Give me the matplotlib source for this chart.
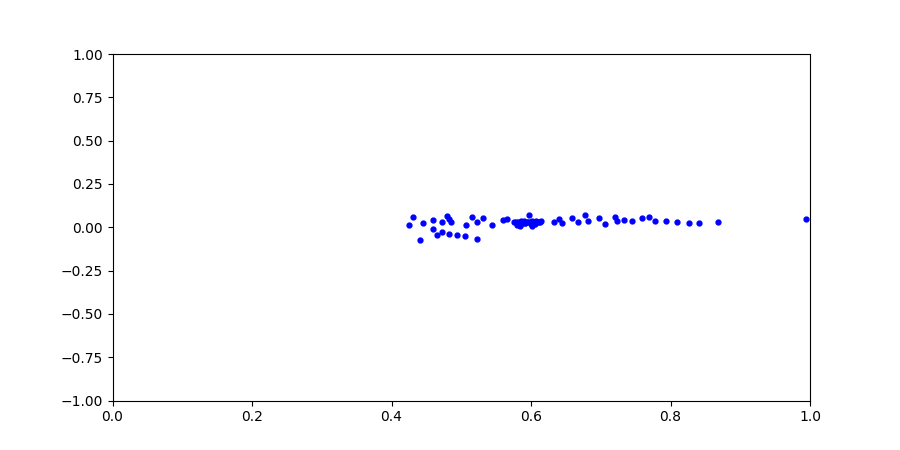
import numpy as np
import matplotlib
matplotlib.use('Agg')
import matplotlib.pyplot as plt

# point coordinates
x_vals = [0.425, 0.431, 0.441, 0.445, 0.459, 0.460, 0.465, 0.472, 0.472, 0.479,
          0.482, 0.483, 0.485, 0.494, 0.505, 0.507, 0.515, 0.523, 0.523, 0.531,
          0.544, 0.560, 0.566,
          0.576, 0.578, 0.580, 0.582, 0.584, 0.585, 0.586, 0.588, 0.590, 0.591,
          0.592, 0.594, 0.596, 0.597, 0.598, 0.600, 0.601, 0.602, 0.603, 0.605,
          0.606, 0.607, 0.609, 0.611, 0.613, 0.615,
          0.633, 0.640, 0.645, 0.659, 0.668, 0.677, 0.682, 0.698, 0.706, 0.721,
          0.724, 0.734, 0.745, 0.759, 0.769, 0.778, 0.793, 0.810, 0.827, 0.841,
          0.868, 0.994]
y_vals = [0.014, 0.062, -0.072, 0.024, 0.043, -0.010, -0.043, 0.030, -0.028, 0.066,
          -0.037, 0.047, 0.033, -0.043, -0.049, 0.014, 0.062, 0.030, -0.068, 0.053,
          0.014, 0.043, 0.049,
          0.033, 0.030, 0.015, 0.028, 0.005, 0.035, 0.020, 0.030, 0.035, 0.022,
          0.025, 0.030, 0.033, 0.072, 0.028, 0.020, 0.035, 0.010, 0.030, 0.025,
          0.018, 0.035, 0.030, 0.028, 0.033, 0.035,
          0.033, 0.049, 0.024, 0.053, 0.030, 0.072, 0.037, 0.053, 0.018, 0.057,
          0.037, 0.041, 0.037, 0.053, 0.062, 0.037, 0.037, 0.030, 0.024, 0.024,
          0.030, 0.047]

fig = plt.figure(figsize=(9, 4.5), dpi=100)
ax = fig.add_subplot(111)
ax.plot(x_vals, y_vals, 'bo', markersize=3.5)
ax.set_xlim(0, 1)
ax.set_ylim(-1, 1)
fig.savefig('out.png', dpi=100)
